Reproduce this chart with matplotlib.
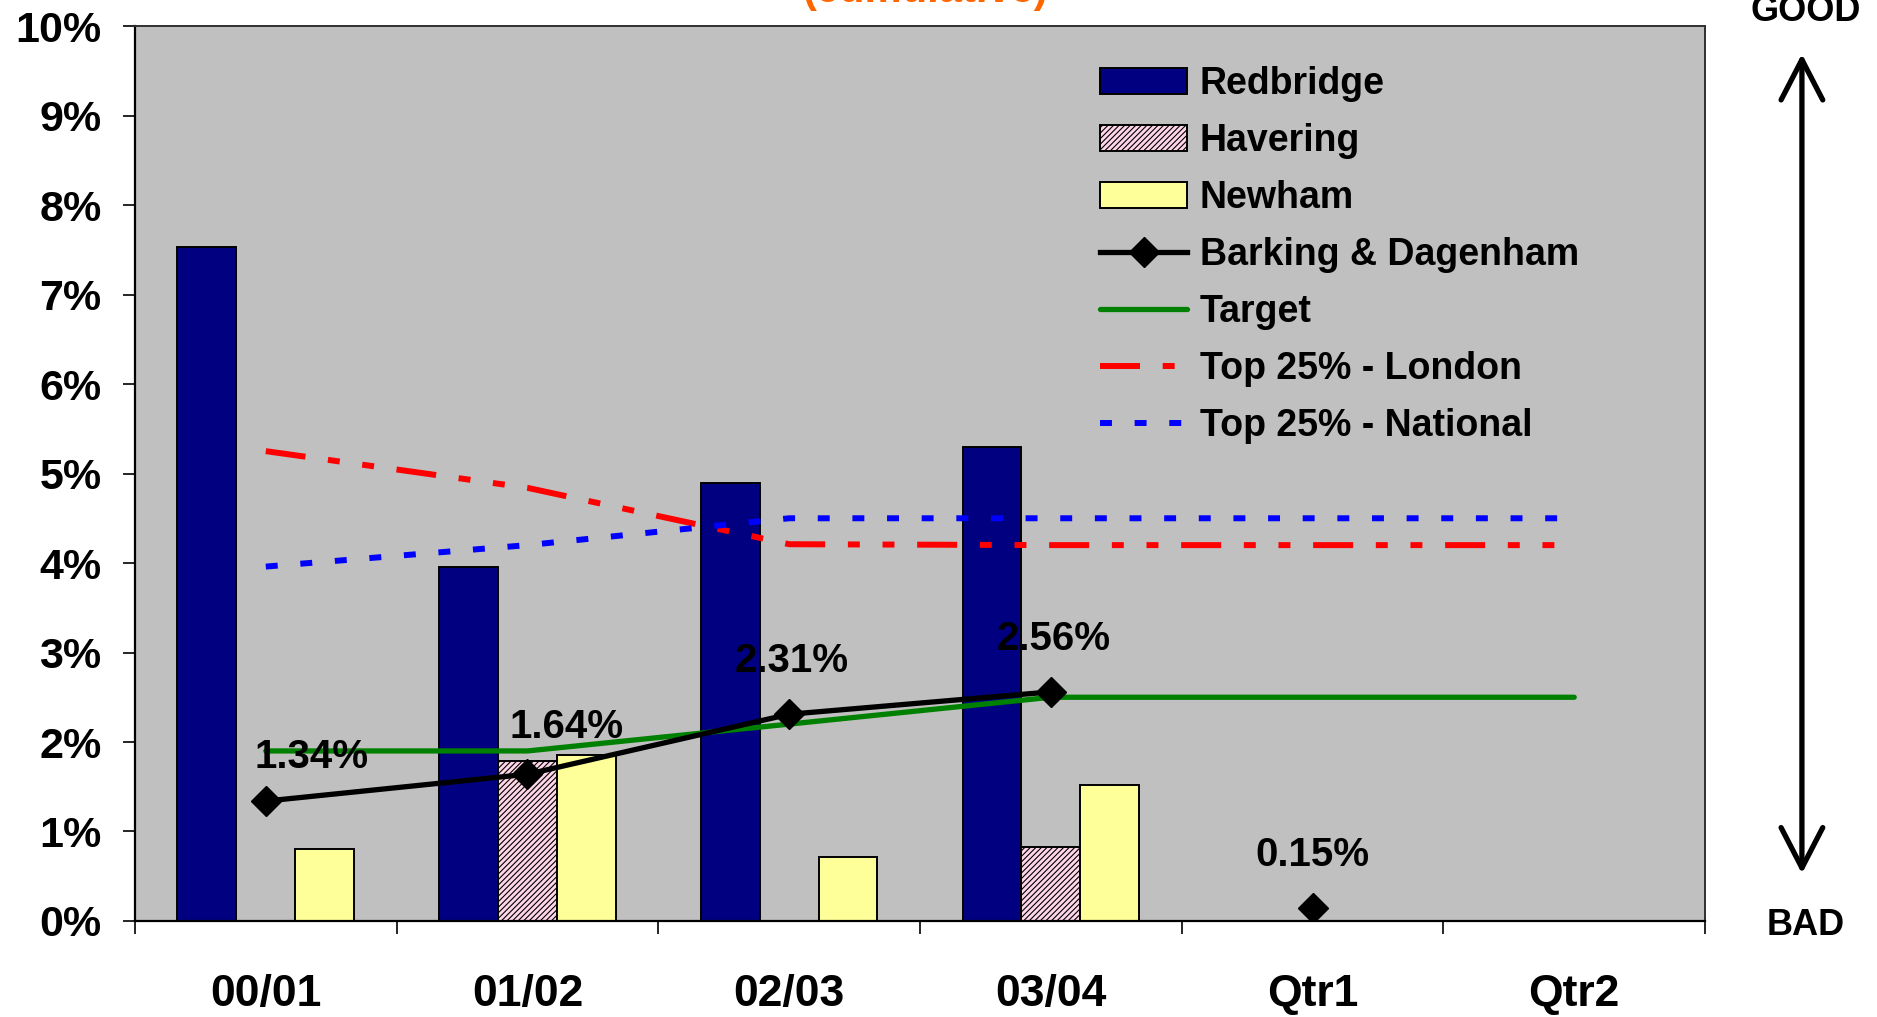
import numpy as np
import matplotlib
matplotlib.use("Agg")
import matplotlib.pyplot as plt
from matplotlib.patches import FancyArrowPatch
from matplotlib.ticker import FuncFormatter, FixedLocator

plt.rcParams['font.family'] = ['Liberation Sans', 'DejaVu Sans']
plt.rcParams['font.weight'] = 'bold'
plt.rcParams['hatch.color'] = '#C8689A'
plt.rcParams['hatch.linewidth'] = 0.8

# ---------------- data ----------------
categories = ["00/01", "01/02", "02/03", "03/04", "Qtr1", "Qtr2"]
redbridge = [7.53, 3.96, 4.89, 5.30, np.nan, np.nan]
havering = [np.nan, 1.79, np.nan, 0.83, np.nan, np.nan]
newham = [0.80, 1.86, 0.71, 1.52, np.nan, np.nan]
barking = [1.34, 1.64, 2.31, 2.56, 0.15, np.nan]
barking_labels = ["1.34%", "1.64%", "2.31%", "2.56%", "0.15%", ""]
target = [1.90, 1.90, 2.20, 2.50, 2.50, 2.50]
top25_london = [5.25, 4.84, 4.21, 4.20, 4.20, 4.20]
top25_national = [3.96, 4.20, 4.50, 4.50, 4.50, 4.50]
yticks = [0, 1, 2, 3, 4, 5, 6, 7, 8, 9, 10]

# ---------------- figure ----------------
fig = plt.figure(figsize=(18.77, 10.17), dpi=100)
fig.patch.set_facecolor('white')
ax = fig.add_axes([0.0719, 0.0944, 0.8365, 0.880])
ax.set_facecolor('#C0C0C0')

x = np.arange(len(categories))
w = 0.225
h_red = ax.bar(x - w, redbridge, w, color='#000080', edgecolor='black', lw=1.4, label='Redbridge', zorder=2)
h_hav = ax.bar(x, havering, w, color='#FFD6E8', edgecolor='black', lw=1.4, hatch='//////', label='Havering', zorder=2)
h_new = ax.bar(x + w, newham, w, color='#FFFF99', edgecolor='black', lw=1.4, label='Newham', zorder=2)

# Barking & Dagenham: connected line for annual values, standalone marker for quarter
bd = np.array(barking, dtype=float)
h_bd, = ax.plot(x[:4], bd[:4], color='black', lw=3.8, marker='D', ms=15, zorder=5,
                label='Barking & Dagenham')
ax.plot(x[4:], bd[4:], color='black', lw=0, marker='D', ms=15, zorder=5)

h_tg, = ax.plot(x, target, color='#008000', lw=3.8, zorder=4, label='Target', solid_capstyle='round')
h_ld, = ax.plot(x, top25_london, color='#FF0000', lw=4.3, dashes=(6.7, 3.8, 2, 3.8, 2, 3.8),
                zorder=3, label='Top 25% - London', dash_capstyle='butt')
h_nt, = ax.plot(x, top25_national, color='#0000FF', lw=4.3, dashes=(2, 3.8),
                zorder=3, label='Top 25% - National', dash_capstyle='butt')

label_offsets = [(33, 32), (28, 34), (2, 38), (2, 38), (0, 38), (0, 38)]
for xi, yi, lab, off in zip(x, bd, barking_labels, label_offsets):
    if np.isnan(yi) or not lab:
        continue
    ax.annotate(lab, (xi, yi), xytext=off, textcoords='offset points',
                ha='center', va='center', fontsize=29, fontweight='bold', zorder=6)

# axes
ax.set_xlim(-0.5, len(categories) - 0.5)
ax.set_ylim(0, 10)
ax.set_yticks(yticks)
ax.yaxis.set_major_formatter(FuncFormatter(lambda v, p: f"{int(v)}%"))
ax.tick_params(axis='y', length=9, width=1.2, pad=15, labelsize=31, direction='out')
ax.xaxis.set_major_locator(FixedLocator(np.arange(-0.5, len(categories), 1.0)))
ax.xaxis.set_minor_locator(FixedLocator(x))
ax.set_xticklabels([''] * 7)
ax.set_xticklabels(categories, minor=True)
ax.tick_params(axis='x', which='major', length=9, width=1.2, direction='out')
ax.tick_params(axis='x', which='minor', length=0, pad=38, labelsize=32)
for lab in ax.get_yticklabels() + ax.get_xticklabels(minor=True):
    lab.set_fontweight('bold')
for s in ['left', 'bottom']:
    ax.spines[s].set_color('black')
    ax.spines[s].set_linewidth(1.6)
for s in ['top', 'right']:
    ax.spines[s].set_color('#303030')
    ax.spines[s].set_linewidth(1.4)

handles = [h_red, h_hav, h_new, h_bd, h_tg, h_ld, h_nt]
labels = [h.get_label() for h in handles]
leg = ax.legend(handles, labels, loc='upper left', bbox_to_anchor=(0.603, 0.976), frameon=False,
                handlelength=2.3, handletextpad=0.35, labelspacing=0.56,
                borderpad=0, prop={'weight': 'bold', 'size': 27})

# title (mostly cut off at top edge)
fig.text(0.493, 0.998, "(cumulative)", color='#FF6600', fontsize=30, fontweight='bold',
         ha='center', va='baseline')

# GOOD / BAD arrow
arrow = FancyArrowPatch((0.960, 0.141), (0.960, 0.947), transform=fig.transFigure,
                        arrowstyle='<->,head_length=1.45,head_width=0.75', mutation_scale=20,
                        lw=3.8, color='black', shrinkA=0, shrinkB=0, capstyle='round',
                        joinstyle='round')
fig.patches.append(arrow)
fig.text(0.962, 0.979, "GOOD", ha='center', va='baseline', fontsize=26, fontweight='bold')
fig.text(0.962, 0.081, "BAD", ha='center', va='baseline', fontsize=26, fontweight='bold')

fig.savefig("out.png", dpi=100, facecolor='white')
